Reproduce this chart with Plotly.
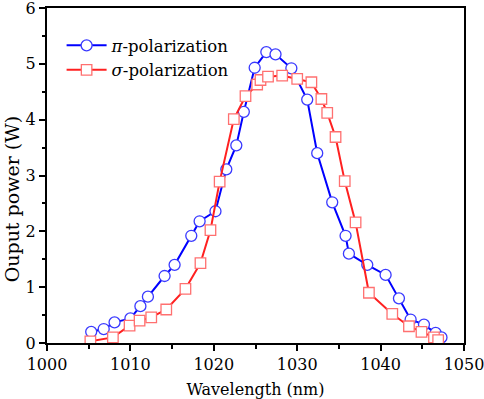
import plotly.graph_objects as go

wl_pi = [1005.3, 1006.8, 1008.1, 1010.0, 1011.2, 1012.1, 1014.1, 1015.3, 1017.3, 1018.3,
         1020.2, 1021.5, 1022.7, 1023.6, 1024.9, 1026.3, 1027.4, 1029.3, 1031.2, 1032.4,
         1034.2, 1035.8, 1036.2, 1038.4, 1040.6, 1042.2, 1043.6, 1045.2, 1046.6, 1047.3]
p_pi = [0.20, 0.25, 0.37, 0.44, 0.66, 0.83, 1.20, 1.40, 1.92, 2.18,
        2.36, 3.11, 3.54, 4.14, 4.93, 5.21, 5.17, 4.92, 4.36, 3.40,
        2.52, 1.92, 1.60, 1.40, 1.22, 0.80, 0.42, 0.33, 0.18, 0.10]

wl_sigma = [1005.2, 1007.9, 1009.9, 1011.1, 1012.5, 1014.3, 1016.6, 1018.4, 1019.6, 1020.7,
            1022.4, 1023.8, 1025.2, 1025.6, 1026.5, 1028.2, 1030.0, 1031.7, 1032.9, 1033.6,
            1034.6, 1035.7, 1037.0, 1038.6, 1041.4, 1043.4, 1044.9, 1046.4, 1046.9]
p_sigma = [0.03, 0.10, 0.31, 0.40, 0.46, 0.60, 0.97, 1.43, 2.02, 2.89,
           4.01, 4.42, 4.63, 4.71, 4.77, 4.79, 4.73, 4.67, 4.37, 4.12,
           3.69, 2.90, 2.16, 0.90, 0.52, 0.30, 0.20, 0.10, 0.05]

x_ticks = [1000, 1010, 1020, 1030, 1040, 1050]
y_ticks = [0, 1, 2, 3, 4, 5, 6]

FONT = "DejaVu Serif"

fig = go.Figure()
fig.add_trace(go.Scatter(
    x=wl_pi, y=p_pi, mode="lines+markers", name="<i>π</i>-polarization",
    line=dict(color="#0000ff", width=2),
    marker=dict(symbol="circle", size=11, color="white",
                line=dict(color="#3a3aff", width=1.3)),
))
fig.add_trace(go.Scatter(
    x=wl_sigma, y=p_sigma, mode="lines+markers", name="<i>σ</i>-polarization",
    line=dict(color="#ff2020", width=2),
    marker=dict(symbol="square", size=10.5, color="white",
                line=dict(color="#ff7070", width=1.3)),
))

axis_common = dict(
    showline=True, linecolor="black", linewidth=2, mirror=True,
    ticks="outside", ticklen=6, tickwidth=1.5, tickcolor="black",
    showgrid=False, zeroline=False, automargin=False,
    ticklabeloverflow="allow",
    tickfont=dict(family=FONT, size=16, color="black"),
)

fig.update_xaxes(
    range=[1000, 1050], tickvals=x_ticks,
    minor=dict(ticks="outside", ticklen=3.5, tickwidth=1.5, tickcolor="black", dtick=5, tick0=1000),
    title=dict(text="Wavelength (nm)", font=dict(family=FONT, size=16, color="black"), standoff=13),
    **axis_common,
)
fig.update_yaxes(
    range=[0, 6], tickvals=y_ticks,
    minor=dict(ticks="outside", ticklen=3.5, tickwidth=1.5, tickcolor="black", dtick=0.5, tick0=0),
    **axis_common,
)

fig.add_annotation(
    text="Ouput power (W)", textangle=-90, showarrow=False,
    xref="paper", yref="paper", x=-0.083, y=0.43,
    xanchor="center", yanchor="middle",
    font=dict(family=FONT, size=19, color="black"),
)

fig.update_layout(
    width=484, height=399,
    margin=dict(l=47, r=20, t=8, b=56),
    paper_bgcolor="white", plot_bgcolor="white",
    font=dict(family=FONT, size=16, color="black"),
    legend=dict(x=0.035, y=0.94, xanchor="left", yanchor="top",
                bgcolor="rgba(0,0,0,0)", font=dict(family=FONT, size=16.5, color="black"),
                tracegroupgap=0, itemwidth=40),
    showlegend=True,
)

fig.write_html("out.html", config={"displayModeBar": False},
               post_script="document.body.style.margin='0';document.body.style.overflow='hidden';")
